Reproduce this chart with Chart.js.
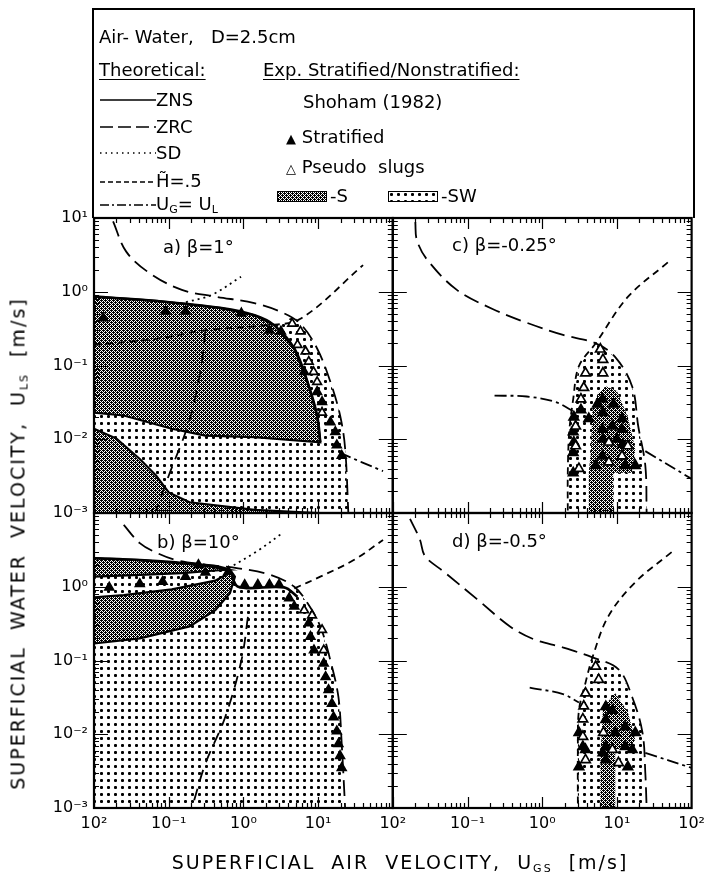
<!DOCTYPE html>
<html>
<head>
<meta charset="utf-8">
<script src="https://cdn.jsdelivr.net/npm/chart.js@4.4.0/dist/chart.umd.min.js"></script>
<style>
  body { margin: 0; background: #fff; color: #000; font-family: "DejaVu Sans", sans-serif; }
  #wrap { position: relative; width: 711px; height: 889px; overflow: hidden; }
  #chart { position: absolute; left: 0; top: 0; }
  .t { position: absolute; white-space: nowrap; line-height: 1; }
  .lab { font-size: 18px; }
  #legend { position: absolute; left: 92px; top: 8px; width: 603px; height: 210px; border: 2px solid #000; border-bottom: none; box-sizing: border-box; }
  #legend .t { font-size: 18px; }
  #legend svg { position: absolute; }
  .u { text-decoration: underline; text-underline-offset: 3px; }
  sub { font-size: 11px; vertical-align: -3px; }
  .title { font-size: 19px; letter-spacing: 2px; word-spacing: 8px; text-align: center; line-height: 22px; }
</style>
</head>
<body>
<div id="wrap">
  <canvas id="chart" width="711" height="889"></canvas>

  <div id="legend">
    <div class="t" style="left:5px;top:18px">Air- Water,&nbsp;&nbsp;&nbsp;D=2.5cm</div>
    <div class="t u" style="left:5px;top:51px">Theoretical:</div>
    <div class="t u" style="left:169px;top:51px">Exp. Stratified/Nonstratified:</div>

    <svg style="left:6px;top:84px" width="56" height="12"><line x1="0" y1="6" x2="56" y2="6" stroke="#000" stroke-width="1.6"/></svg>
    <div class="t" style="left:62px;top:81px">ZNS</div>
    <svg style="left:6px;top:111px" width="56" height="12"><line x1="0" y1="6" x2="56" y2="6" stroke="#000" stroke-width="1.6" stroke-dasharray="13 5"/></svg>
    <div class="t" style="left:62px;top:108px">ZRC</div>
    <svg style="left:6px;top:137px" width="56" height="12"><line x1="0" y1="6" x2="56" y2="6" stroke="#000" stroke-width="1.6" stroke-dasharray="1.5 4"/></svg>
    <div class="t" style="left:62px;top:134px">SD</div>
    <svg style="left:6px;top:166px" width="56" height="12"><line x1="0" y1="6" x2="56" y2="6" stroke="#000" stroke-width="1.6" stroke-dasharray="5 3"/></svg>
    <div class="t" style="left:62px;top:162px">H&#771;=.5</div>
    <svg style="left:6px;top:189px" width="56" height="12"><line x1="0" y1="6" x2="56" y2="6" stroke="#000" stroke-width="1.6" stroke-dasharray="9 3 2 3"/></svg>
    <div class="t" style="left:62px;top:185px">U<sub>G</sub>= U<sub>L</sub></div>

    <div class="t" style="left:209px;top:83px">Shoham (1982)</div>
    <div class="t" style="left:192px;top:118px"><span style="font-size:13px">&#9650;</span> Stratified</div>
    <div class="t" style="left:192px;top:148px"><span style="font-size:13px">&#9651;</span> Pseudo&nbsp; slugs</div>
    <canvas id="swS" class="sw" width="50" height="11" style="position:absolute;left:183px;top:181px"></canvas>
    <div class="t" style="left:236px;top:177px">-S</div>
    <canvas id="swSW" class="sw" width="50" height="11" style="position:absolute;left:294px;top:181px"></canvas>
    <div class="t" style="left:347px;top:177px">-SW</div>
  </div>

  <div class="t lab" style="left:163px;top:238px">a)&nbsp;β=1°</div>
  <div class="t lab" style="left:452px;top:236px">c)&nbsp;β=-0.25°</div>
  <div class="t lab" style="left:157px;top:533px">b)&nbsp;β=10°</div>
  <div class="t lab" style="left:452px;top:532px">d)&nbsp;β=-0.5°</div>

  <div class="t title" style="left:-279px;top:529px;width:600px;transform:rotate(-90deg)">SUPERFICIAL WATER VELOCITY, U<sub>LS</sub> [m/s]</div>
  <div class="t title" style="left:100px;top:851px;width:600px">SUPERFICIAL AIR VELOCITY, U<sub>GS</sub> [m/s]</div>
</div>

<script>
// tick labels (as printed on the figure)
const xTickValues = [0.01, 0.1, 1, 10, 100];
const xTickLabels = ['10²', '10⁻¹', '10⁰', '10¹', '10²'];
const yTickValues = [0.001, 0.01, 0.1, 1, 10];
const yTickLabels = ['10⁻³', '10⁻²', '10⁻¹', '10⁰', '10¹'];

// a) beta = 1 deg   [U_GS, U_LS]
const aZRC = [[0.018, 9.0], [0.027, 3.5], [0.055, 1.8], [0.15, 1.06], [0.42, 0.86], [1.4, 0.70], [3.5, 0.51], [5.9, 0.36], [9.7, 0.17], [14.6, 0.06], [19.7, 0.021], [23, 0.0075], [25.4, 0.001]];
const aSD = [[0.17, 0.72], [0.38, 0.91], [0.93, 1.6]];
const aH5 = [[0.01, 0.19], [0.068, 0.23], [0.31, 0.30], [1.9, 0.35], [5.8, 0.43], [40, 2.3]];
const aSteep = [[0.31, 0.29], [0.265, 0.082], [0.186, 0.017], [0.10, 0.0032], [0.068, 0.0011]];
const aUGUL = [[19.4, 0.0066], [38, 0.0049], [74, 0.0037]];
const aZNS = [[0.01, 0.86], [0.068, 0.75], [0.51, 0.60], [1.41, 0.48], [2.6, 0.35], [4.8, 0.17], [7.2, 0.06], [9.7, 0.021], [10.7, 0.0091]];
const aS1Lower = [[1.41, 0.0107], [0.31, 0.0112], [0.11, 0.0139], [0.025, 0.021], [0.01, 0.023]];
const aS2 = [[0.01, 0.0139], [0.02, 0.0102], [0.041, 0.0054], [0.068, 0.0032], [0.1, 0.0019], [0.19, 0.0014], [1.41, 0.0011], [10, 0.001], [0.01, 0.001]];
const aSW = [[0.01, 0.001], [0.01, 0.86], [0.068, 0.75], [0.51, 0.60], [1.41, 0.48], [2.6, 0.35], [4.8, 0.46], [5.9, 0.36], [9.7, 0.17], [14.6, 0.06], [19.7, 0.021], [23, 0.0075], [25.4, 0.001]];
const aStrat = [[0.0133, 0.44], [0.091, 0.54], [0.168, 0.54], [0.94, 0.51], [2.23, 0.30], [3.18, 0.29], [6.5, 0.082], [9.7, 0.044], [11.3, 0.032], [14.6, 0.017], [17, 0.0126], [17.8, 0.0083], [20.7, 0.006]];
const aPseudo = [[4.5, 0.37], [5.8, 0.29], [5.3, 0.19], [6.8, 0.155], [7.5, 0.113], [8.7, 0.082], [9.7, 0.06], [11.3, 0.023]];

// b) beta = 10 deg
const bZRC = [[0.025, 6.9], [0.041, 3.9], [0.068, 2.9], [0.126, 2.3], [0.31, 2.0], [0.85, 1.78], [2.3, 1.45], [4.8, 1.0], [7.2, 0.6], [10.7, 0.29], [14.6, 0.10], [18.7, 0.032], [20.7, 0.0074], [23, 0.001]];
const bSD = [[0.63, 1.78], [1.5, 3.0], [3.3, 5.3]];
const bH5 = [[4.8, 0.95], [10.7, 1.37], [30, 2.3], [74, 4.3]];
const bSteep = [[1.15, 0.39], [0.94, 0.10], [0.57, 0.017], [0.31, 0.004], [0.21, 0.0011]];
const bZNS = [[0.01, 2.44], [0.041, 2.3], [0.25, 2.0], [0.63, 1.7], [0.85, 1.0], [3.5, 0.98], [5.3, 0.73]];
const bS1 = [[0.01, 2.44], [0.041, 2.3], [0.25, 2.0], [0.63, 1.7], [0.42, 1.66], [0.15, 1.53], [0.041, 1.45], [0.01, 1.37]];
const bS2 = [[0.01, 0.72], [0.025, 0.77], [0.11, 0.92], [0.42, 1.21], [0.69, 1.6], [0.77, 1.37], [0.66, 0.82], [0.42, 0.48], [0.19, 0.29], [0.041, 0.2], [0.01, 0.17]];
const bSW = [[0.01, 0.001], [0.01, 2.44], [0.041, 2.3], [0.25, 2.0], [0.63, 1.7], [0.85, 1.0], [3.5, 0.98], [4.8, 1.0], [7.2, 0.6], [10.7, 0.29], [14.6, 0.10], [18.7, 0.032], [20.7, 0.0074], [23, 0.001]];
const bStrat = [[0.016, 0.98], [0.041, 1.09], [0.083, 1.17], [0.168, 1.37], [0.31, 1.56], [0.25, 1.98], [0.63, 1.6], [1.04, 1.06], [1.56, 1.07], [2.23, 1.07], [3.0, 1.07], [4.1, 0.70], [4.8, 0.54], [7.5, 0.32], [7.9, 0.21], [8.8, 0.138], [11.9, 0.091], [12.6, 0.06], [13.8, 0.04], [15.3, 0.026], [16.1, 0.017], [17.8, 0.011], [18.7, 0.0074], [19.7, 0.0051], [20.7, 0.0035]];
const bPseudo = [[6.5, 0.48], [8.3, 0.41], [11.3, 0.26], [11.9, 0.138]];

// c) beta = -0.25 deg
const cZRC = [[0.02, 8.8], [0.021, 5.0], [0.029, 2.7], [0.072, 1.06], [0.22, 0.58], [0.62, 0.38], [1.9, 0.26], [5.2, 0.2], [9.5, 0.13], [16, 0.052], [19.3, 0.015], [24, 0.0044], [25, 0.001]];
const cH5 = [[48, 2.5], [14, 0.85], [5.2, 0.2], [3.1, 0.098], [2.6, 0.035], [2.3, 0.0126], [2.2, 0.0035], [2.2, 0.001]];
const cUGULin = [[0.23, 0.039], [0.62, 0.038], [1.5, 0.032], [2.8, 0.023]];
const cUGULout = [[24, 0.0069], [100, 0.0029]];
const cSW = [[2.2, 0.001], [2.2, 0.0035], [2.3, 0.0126], [2.6, 0.035], [3.1, 0.098], [5.2, 0.2], [9.5, 0.13], [16, 0.052], [19.3, 0.015], [24, 0.0044], [25, 0.001]];
const cS = [[4.2, 0.001], [4.2, 0.0035], [4.5, 0.0072], [4.7, 0.026], [5.6, 0.042], [7.2, 0.052], [10, 0.045], [14, 0.02], [17.6, 0.0074], [15.8, 0.0035], [8.9, 0.0035], [8.9, 0.001]];
const cStrat = [[2.6, 0.0126], [2.6, 0.0066], [2.6, 0.0035], [2.65, 0.02], [2.65, 0.0091], [3.3, 0.025], [4.2, 0.019], [5.5, 0.03], [6.4, 0.035], [6.5, 0.023], [6.4, 0.0136], [6.5, 0.01], [6.4, 0.0059], [9, 0.03], [8.7, 0.015], [10, 0.01], [11.7, 0.0136], [12, 0.0085], [11.7, 0.0059], [12.9, 0.0044], [5.2, 0.0044], [11.7, 0.019], [17.6, 0.0044]];
const cPseudo = [[6.0, 0.166], [6.5, 0.12], [3.8, 0.079], [6.5, 0.079], [3.6, 0.05], [3.3, 0.035], [2.8, 0.015], [2.8, 0.0081], [3.1, 0.004], [11.7, 0.0059], [7.8, 0.0049], [7.8, 0.0091], [14, 0.0081]];

// d) beta = -0.5 deg
const dZRC = [[0.017, 8.3], [0.023, 4.4], [0.027, 2.6], [0.049, 1.58], [0.134, 0.68], [0.37, 0.29], [0.76, 0.195], [1.9, 0.15], [4.7, 0.11], [10.5, 0.076], [16, 0.032], [22, 0.0105], [24, 0.003], [25, 0.001]];
const dH5 = [[54, 2.95], [17.6, 1.15], [7.7, 0.4], [4.7, 0.11], [3.8, 0.05], [3.1, 0.021], [3.0, 0.0063], [3.0, 0.001]];
const dUGULin = [[0.68, 0.043], [1.9, 0.035], [3.1, 0.027]];
const dUGULout = [[24, 0.0056], [100, 0.0035]];
const dSW = [[3.0, 0.001], [3.0, 0.0063], [3.1, 0.021], [3.8, 0.05], [4.7, 0.11], [10.5, 0.076], [16, 0.032], [22, 0.0105], [24, 0.003], [25, 0.001]];
const dS = [[6.0, 0.001], [6.0, 0.0063], [6.2, 0.0085], [6.5, 0.023], [9.5, 0.036], [14, 0.02], [17.6, 0.0085], [15, 0.0063], [9.5, 0.0063], [9.5, 0.001]];
const dStrat = [[3.1, 0.0105], [3.5, 0.0068], [3.8, 0.0062], [3.1, 0.0036], [7.1, 0.0237], [7.1, 0.0158], [8.7, 0.021], [9.5, 0.0105], [7.1, 0.0068], [7.1, 0.0045], [12.9, 0.0126], [12.9, 0.0068], [16, 0.0062], [14, 0.0036], [6.5, 0.0056], [17.6, 0.0105]];
const dPseudo = [[5.2, 0.083], [5.7, 0.055], [3.8, 0.036], [3.6, 0.024], [3.5, 0.016], [3.5, 0.0093], [3.8, 0.0045], [8.7, 0.0062], [10.5, 0.0041], [6.6, 0.0105]];

// fill textures: S = fine crosshatch, SW = sparse dots
function makePattern(kind) {
    var c = document.createElement('canvas');
    var g = c.getContext('2d');
    if (kind === 'S') {
        c.width = 4; c.height = 4;
        g.fillStyle = '#fff'; g.fillRect(0, 0, 4, 4);
        g.fillStyle = '#000';
        for (var i = 0; i < 4; i++) {
            for (var j = 0; j < 4; j++) {
                if ((i + j) % 2 === 0 || (i === 1 && j === 0) || (i === 3 && j === 2)) g.fillRect(i, j, 1, 1);
            }
        }
    } else {
        c.width = 7; c.height = 7;
        g.fillStyle = '#fff'; g.fillRect(0, 0, 7, 7);
        g.fillStyle = '#000';
        g.fillRect(2, 3, 3, 1);
        g.fillRect(3, 2, 1, 3);
        g.fillStyle = '#444';
        g.fillRect(2, 2, 1, 1); g.fillRect(4, 2, 1, 1); g.fillRect(2, 4, 1, 1); g.fillRect(4, 4, 1, 1);
    }
    return g.createPattern(c, 'repeat');
}
var ctx0 = document.getElementById('chart').getContext('2d');
var patS = makePattern('S');
var patSW = makePattern('SW');

['swS', 'swSW'].forEach(function (id) {
    var g = document.getElementById(id).getContext('2d');
    g.fillStyle = id === 'swS' ? patS : patSW;
    g.fillRect(0, 0, 50, 11);
    g.strokeStyle = '#000'; g.lineWidth = 1;
    g.strokeRect(0.5, 0.5, 49, 10);
});

const DASH = { ZRC: [16, 7], SD: [2, 4], H5: [7, 5], UGUL: [12, 4, 3, 4], STEEP: [12, 8] };

function pts(arr) { return arr.map(p => ({ x: p[0], y: p[1] })); }

function areaSet(arr, pat, xa, ya, border) {
    return {
        data: pts(arr), xAxisID: xa, yAxisID: ya, showLine: true, fill: 'shape',
        backgroundColor: pat, borderColor: border ? '#000' : 'rgba(0,0,0,0)', borderWidth: border || 1,
        pointRadius: 0, tension: 0, order: pat === patSW ? 5 : 4
    };
}
function lineSet(arr, dash, xa, ya, w) {
    return {
        data: pts(arr), xAxisID: xa, yAxisID: ya, showLine: true, fill: false,
        borderColor: '#000', borderWidth: w || 1.8, borderDash: dash || [],
        pointRadius: 0, tension: 0.35, order: 2
    };
}
function markSet(arr, filled, xa, ya, r) {
    return {
        data: pts(arr), xAxisID: xa, yAxisID: ya, showLine: false, pointStyle: 'triangle',
        pointRadius: r || 5, backgroundColor: filled ? '#000' : '#fff', borderColor: '#000',
        borderWidth: 1.7, order: filled ? 1 : 0
    };
}

var datasets = [
    // a
    areaSet(aSW, patSW, 'xL', 'yT'),
    areaSet(aZNS.concat(aS1Lower), patS, 'xL', 'yT', 2.2),
    areaSet(aS2, patS, 'xL', 'yT', 2.2),
    lineSet(aZRC, DASH.ZRC, 'xL', 'yT'),
    lineSet(aSD, DASH.SD, 'xL', 'yT'),
    lineSet(aH5, DASH.H5, 'xL', 'yT'),
    lineSet(aSteep, DASH.STEEP, 'xL', 'yT'),
    lineSet(aUGUL, DASH.UGUL, 'xL', 'yT'),
    lineSet(aZNS, [], 'xL', 'yT', 2.6),
    markSet(aStrat, true, 'xL', 'yT'),
    markSet(aPseudo, false, 'xL', 'yT'),
    // b
    areaSet(bSW, patSW, 'xL', 'yB'),
    areaSet(bS1, patS, 'xL', 'yB', 2.2),
    areaSet(bS2, patS, 'xL', 'yB', 2.2),
    lineSet(bZRC, DASH.ZRC, 'xL', 'yB'),
    lineSet(bSD, DASH.SD, 'xL', 'yB'),
    lineSet(bH5, DASH.H5, 'xL', 'yB'),
    lineSet(bSteep, DASH.STEEP, 'xL', 'yB'),
    lineSet(bZNS, [], 'xL', 'yB', 2.6),
    markSet(bStrat, true, 'xL', 'yB'),
    markSet(bPseudo, false, 'xL', 'yB'),
    // c
    areaSet(cSW, patSW, 'xR', 'yT'),
    areaSet(cS, patS, 'xR', 'yT'),
    lineSet(cZRC, DASH.ZRC, 'xR', 'yT'),
    lineSet(cH5, DASH.H5, 'xR', 'yT'),
    lineSet(cUGULin, DASH.UGUL, 'xR', 'yT'),
    lineSet(cUGULout, DASH.UGUL, 'xR', 'yT'),
    markSet(cStrat, true, 'xR', 'yT', 5.5),
    markSet(cPseudo, false, 'xR', 'yT', 5.5),
    // d
    areaSet(dSW, patSW, 'xR', 'yB'),
    areaSet(dS, patS, 'xR', 'yB'),
    lineSet(dZRC, DASH.ZRC, 'xR', 'yB'),
    lineSet(dH5, DASH.H5, 'xR', 'yB'),
    lineSet(dUGULin, DASH.UGUL, 'xR', 'yB'),
    lineSet(dUGULout, DASH.UGUL, 'xR', 'yB'),
    markSet(dStrat, true, 'xR', 'yB', 5.5),
    markSet(dPseudo, false, 'xR', 'yB', 5.5)
];

function logAxis(pos, stack, values, labels, hide) {
    return {
        type: 'logarithmic', position: pos, stack: stack, stackWeight: 1,
        min: values[0], max: values[values.length - 1],
        grid: { display: false, drawTicks: false },
        border: { display: false },
        afterBuildTicks: function (s) { s.ticks = values.map(v => ({ value: v })); },
        afterFit: function (s) { if (pos === 'left') s.width = 48; else s.height = 30; },
        ticks: {
            autoSkip: false, maxRotation: 0, padding: 6, color: '#000',
            font: { family: 'DejaVu Sans', size: 16 },
            callback: function (v, i) { return i === hide ? '' : labels[i]; }
        }
    };
}

// panel frames with inward log tick marks on all four sides
var panelFrames = {
    id: 'panelFrames',
    afterDatasetsDraw: function (chart) {
        var ctx = chart.ctx;
        var pairs = [['xL', 'yT'], ['xR', 'yT'], ['xL', 'yB'], ['xR', 'yB']];
        ctx.save();
        ctx.strokeStyle = '#000';
        pairs.forEach(function (p) {
            var xs = chart.scales[p[0]], ys = chart.scales[p[1]];
            var l = xs.left, r = xs.right, t = ys.top, b = ys.bottom;
            ctx.lineWidth = 1.2;
            ctx.beginPath();
            for (var e = -2; e < 2; e++) {
                for (var m = 1; m < 10; m++) {
                    var px = Math.round(xs.getPixelForValue(m * Math.pow(10, e))) + 0.5;
                    var len = m === 1 ? 11 : 5;
                    ctx.moveTo(px, b); ctx.lineTo(px, b - len);
                    ctx.moveTo(px, t); ctx.lineTo(px, t + len);
                }
            }
            for (var e2 = -3; e2 < 1; e2++) {
                for (var m2 = 1; m2 < 10; m2++) {
                    var py = Math.round(ys.getPixelForValue(m2 * Math.pow(10, e2))) + 0.5;
                    var len2 = m2 === 1 ? 14 : 5;
                    ctx.moveTo(l, py); ctx.lineTo(l + len2, py);
                    ctx.moveTo(r, py); ctx.lineTo(r - len2, py);
                }
            }
            ctx.stroke();
            ctx.lineWidth = 2.2;
            ctx.strokeRect(l, t, r - l, b - t);
        });
        ctx.restore();
    }
};

var chart = new Chart(ctx0, {
    type: 'line',
    data: { datasets: datasets },
    options: {
        responsive: false,
        animation: false,
        events: [],
        layout: { padding: { left: 46, top: 218, right: 14, bottom: 51 } },
        plugins: {
            legend: { display: false },
            tooltip: { enabled: false },
            filler: { propagate: false }
        },
        scales: {
            // left boxes are stacked in reverse order, so the lower panel's axis comes first
            yB: logAxis('left', 'v', yTickValues, yTickLabels, 4),
            yT: logAxis('left', 'v', yTickValues, yTickLabels, -1),
            xL: logAxis('bottom', 'h', xTickValues, xTickLabels, 4),
            xR: logAxis('bottom', 'h', xTickValues, xTickLabels, -1)
        }
    },
    plugins: [panelFrames]
});
</script>
</body>
</html>
